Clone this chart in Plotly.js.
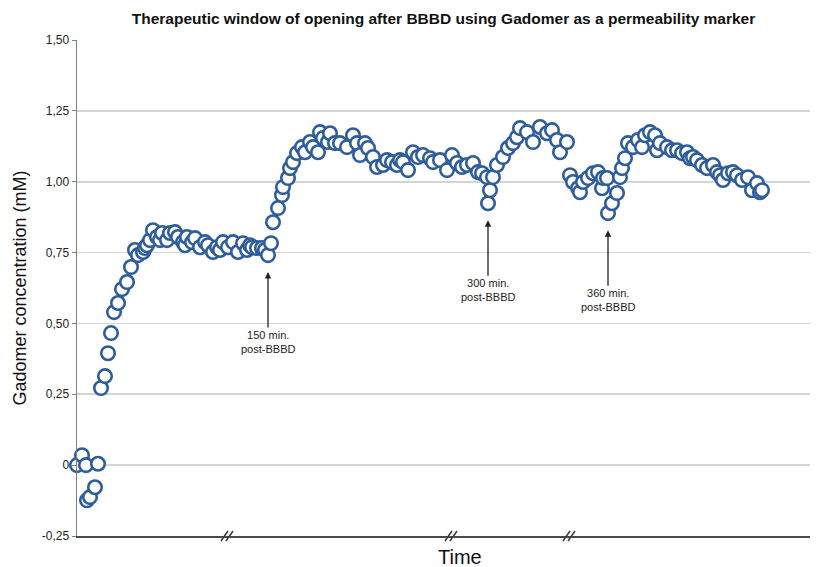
<!DOCTYPE html>
<html>
<head>
<meta charset="utf-8">
<script src="https://cdn.plot.ly/plotly-3.0.1.min.js"></script>
<style>html,body{margin:0;padding:0;background:#fff;}#chart{width:831px;height:567px;}</style>
</head>
<body>
<div id="chart"></div>
<script>
// Time (arbitrary units, axis has no tick labels) and Gadomer concentration (mM)
var timeBaseline = [0, 5, 9, 10, 13, 18, 21];
var concBaseline = [0.00, 0.035, 0.00, -0.124, -0.113, -0.078, 0.005];

var timeWindow1 = [24, 28, 31, 34, 37, 41, 45, 50, 54, 58, 61, 66, 68, 70, 73, 76, 80, 83, 85, 90, 93, 98, 101, 106, 108, 110, 115, 118, 123, 128, 131, 136, 140, 143, 146, 151, 156, 161, 166, 170, 173, 175, 180, 185, 188, 191, 194];
var concWindow1 = [0.272, 0.314, 0.395, 0.466, 0.540, 0.572, 0.621, 0.646, 0.699, 0.759, 0.741, 0.752, 0.766, 0.776, 0.794, 0.829, 0.805, 0.794, 0.819, 0.794, 0.819, 0.822, 0.805, 0.787, 0.776, 0.805, 0.787, 0.801, 0.769, 0.787, 0.776, 0.752, 0.769, 0.759, 0.787, 0.769, 0.787, 0.752, 0.783, 0.759, 0.776, 0.769, 0.766, 0.766, 0.759, 0.741, 0.783];

var timeWindow2 = [196, 201, 205, 206, 211, 213, 216, 220, 225, 228, 233, 236, 241, 243, 246, 251, 253, 258, 263, 270, 276, 280, 283, 288, 291, 296, 300, 306, 310, 315, 320, 323, 326, 331, 336, 341, 346, 353, 356, 363, 370, 375, 380, 385, 390, 396, 401, 405, 410, 411, 413];
var concWindow2 = [0.857, 0.907, 0.953, 0.981, 1.013, 1.048, 1.069, 1.101, 1.122, 1.104, 1.140, 1.122, 1.104, 1.175, 1.154, 1.140, 1.171, 1.136, 1.136, 1.122, 1.164, 1.136, 1.094, 1.136, 1.119, 1.087, 1.052, 1.059, 1.076, 1.069, 1.059, 1.076, 1.069, 1.041, 1.104, 1.087, 1.094, 1.083, 1.069, 1.076, 1.041, 1.094, 1.066, 1.052, 1.059, 1.066, 1.034, 1.030, 1.016, 0.924, 0.970];

var timeWindow3 = [416, 420, 426, 431, 436, 440, 443, 450, 456, 463, 470, 475, 480, 483, 490];
var concWindow3 = [1.016, 1.059, 1.087, 1.119, 1.136, 1.157, 1.189, 1.175, 1.140, 1.193, 1.171, 1.182, 1.147, 1.104, 1.140];

var timeWindow4 = [493, 496, 501, 503, 506, 511, 516, 521, 525, 526, 530, 531, 535, 540, 543, 545, 548, 551, 556, 561, 565, 568, 573, 578, 580, 583, 590, 595, 600, 605, 610, 613, 616, 620, 625, 630, 636, 640, 643, 646, 651, 656, 660, 665, 671, 675, 680, 683, 685];
var concWindow4 = [1.023, 0.999, 0.977, 0.963, 0.999, 1.013, 1.030, 1.034, 0.977, 1.013, 1.013, 0.889, 0.924, 0.960, 1.016, 1.048, 1.083, 1.136, 1.122, 1.147, 1.122, 1.164, 1.175, 1.164, 1.111, 1.136, 1.122, 1.111, 1.111, 1.101, 1.104, 1.083, 1.087, 1.076, 1.059, 1.048, 1.059, 1.034, 1.023, 1.006, 1.030, 1.034, 1.023, 1.006, 1.016, 0.970, 0.995, 0.963, 0.970];

// Axis break positions on the time axis
var axisBreaks = [151, 375, 493];

// Annotated BBBD re-openings (time, concentration at dip, label)
var eventTimes = [191, 411, 531];
var eventConc = [0.741, 0.924, 0.889];
var eventLabels = ['150 min.<br>post-BBBD', '300 min.<br>post-BBBD', '360 min.<br>post-BBBD'];

var yTickVals = [-0.25, 0, 0.25, 0.5, 0.75, 1.0, 1.25, 1.5];
var yTickText = ['-0,25', '0', '0,25', '0,50', '0,75', '1,00', '1,25', '1,50'];

var allTime = [].concat(timeBaseline, timeWindow1, timeWindow2, timeWindow3, timeWindow4);
var allConc = [].concat(concBaseline, concWindow1, concWindow2, concWindow3, concWindow4);

var FONT = 'Liberation Sans, Arial, sans-serif';
var markerColor = '#2f5d9b';

var trace = {
  x: allTime, y: allConc, type: 'scatter', mode: 'markers',
  cliponaxis: false,
  marker: {symbol: 'circle', size: 13.5, color: '#ffffff', line: {color: markerColor, width: 2.6}},
  hoverinfo: 'x+y'
};

var shapes = [];
axisBreaks.forEach(function (b) {
  [-3, 2].forEach(function (off) {
    shapes.push({
      type: 'line', xref: 'x', yref: 'paper', xsizemode: 'pixel', ysizemode: 'pixel',
      xanchor: b, yanchor: 0,
      x0: off - 4, y0: -5, x1: off + 3, y1: 5,
      line: {color: '#404040', width: 1.6}
    });
  });
});

var annotations = eventTimes.map(function (t, i) {
  return {
    x: t, y: eventConc[i], xref: 'x', yref: 'y',
    text: eventLabels[i], showarrow: true,
    arrowhead: 2, arrowsize: 1, arrowwidth: 1.3, arrowcolor: '#222',
    ax: 0, ay: 87, standoff: 17,
    font: {family: FONT, size: 11, color: '#222'}
  };
});

annotations.push({
  text: 'Time', xref: 'paper', yref: 'paper', x: 0.5225, y: -0.043,
  xanchor: 'center', yanchor: 'middle', showarrow: false,
  font: {family: FONT, size: 20, color: '#111'}
});

var layout = {
  width: 831, height: 567,
  margin: {l: 77, r: 21, t: 40, b: 31, pad: 0},
  paper_bgcolor: '#ffffff', plot_bgcolor: '#ffffff',
  showlegend: false,
  font: {family: FONT, color: '#222'},
  title: {
    text: '<b>Therapeutic window of opening after BBBD using Gadomer as a permeability marker</b>',
    font: {family: FONT, size: 15.5, color: '#111'},
    x: 0.5, xref: 'paper', y: 0.968, yref: 'container', yanchor: 'middle'
  },
  xaxis: {
    range: [0, 733], showgrid: false, zeroline: false,
    showticklabels: false, ticks: '',
    showline: true, linecolor: '#4a4a4a', linewidth: 2
  },
  yaxis: {
    range: [-0.25, 1.5], tickvals: yTickVals, ticktext: yTickText,
    showgrid: true, gridcolor: '#d4d4d4', gridwidth: 1.8,
    zeroline: false,
    showline: true, linecolor: '#7f7f7f', linewidth: 1.5,
    ticks: 'outside', ticklen: 4, tickcolor: '#7f7f7f', tickwidth: 1,
    tickfont: {family: FONT, size: 12, color: '#222'},
    title: {text: 'Gadomer concentration (mM)', font: {family: FONT, size: 18, color: '#111'}, standoff: 10}
  },
  shapes: shapes,
  annotations: annotations
};

Plotly.newPlot('chart', [trace], layout, {displayModeBar: false, staticPlot: true});
</script>
</body>
</html>
